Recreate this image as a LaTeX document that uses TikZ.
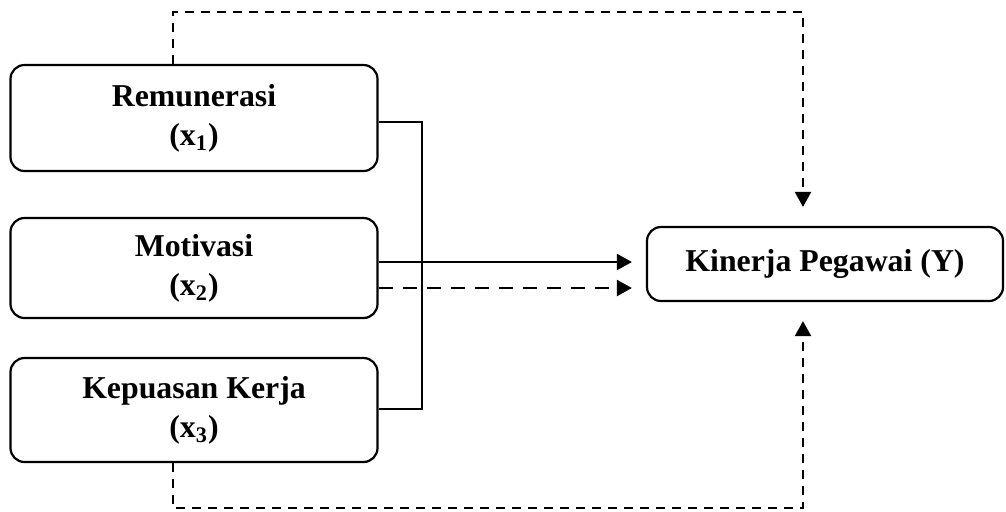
\documentclass[tikz,border=0pt]{standalone}
\usepackage{fontspec}
\setmainfont{Liberation Serif}
\usetikzlibrary{arrows.meta}
\begin{document}
\begin{tikzpicture}[x=0.5pt,y=-0.5pt,
  box/.style={draw, line width=1.1pt, rounded corners=7pt, align=center,
    font=\fontsize{15.9}{19.5}\selectfont\bfseries, inner sep=0pt},
  conn/.style={line width=1.1pt},
  tip/.style={-{Triangle[length=7.5pt,width=8pt]}},
  fdash/.style={dash pattern=on 4.5pt off 3.5pt},
  mdash/.style={dash pattern=on 7pt off 5pt}]
\useasboundingbox (0,0) rectangle (1006,511);
\node[box, minimum width=183.5pt, minimum height=53pt] (rem) at (194,118) {Remunerasi\\(x\textsubscript{1})};
\node[box, minimum width=183.5pt, minimum height=50pt] (mot) at (194,268) {Motivasi\\(x\textsubscript{2})};
\node[box, minimum width=183.5pt, minimum height=52pt] (kep) at (194,410) {Kepuasan Kerja\\(x\textsubscript{3})};
\node[box, minimum width=178pt, minimum height=37pt] (kin) at (825,264) {Kinerja Pegawai (Y)};
\coordinate (j1) at (422,122);
\coordinate (j3) at (422,409);
\coordinate (a1) at (0,262);
\coordinate (a2) at (0,288);
\coordinate (tl) at (173,12);
\coordinate (tr) at (803,12);
\coordinate (bl) at (173,508);
\coordinate (br) at (803,508);
\draw[conn] (rem.east |- j1) -- (j1) -- (j3) -- (kep.east |- j3);
\draw[conn, tip, shorten >=7pt] (mot.east |- a1) -- (kin.west |- a1);
\draw[conn, tip, mdash, shorten >=7pt] (mot.east |- a2) -- (kin.west |- a2);
\draw[conn, tip, fdash, shorten >=9.5pt] (rem.north -| tl) -- (tl) -- (tr) -- (kin.north -| tr);
\draw[conn, tip, fdash, shorten >=9.5pt] (kep.south -| bl) -- (bl) -- (br) -- (kin.south -| br);
\end{tikzpicture}
\end{document}
